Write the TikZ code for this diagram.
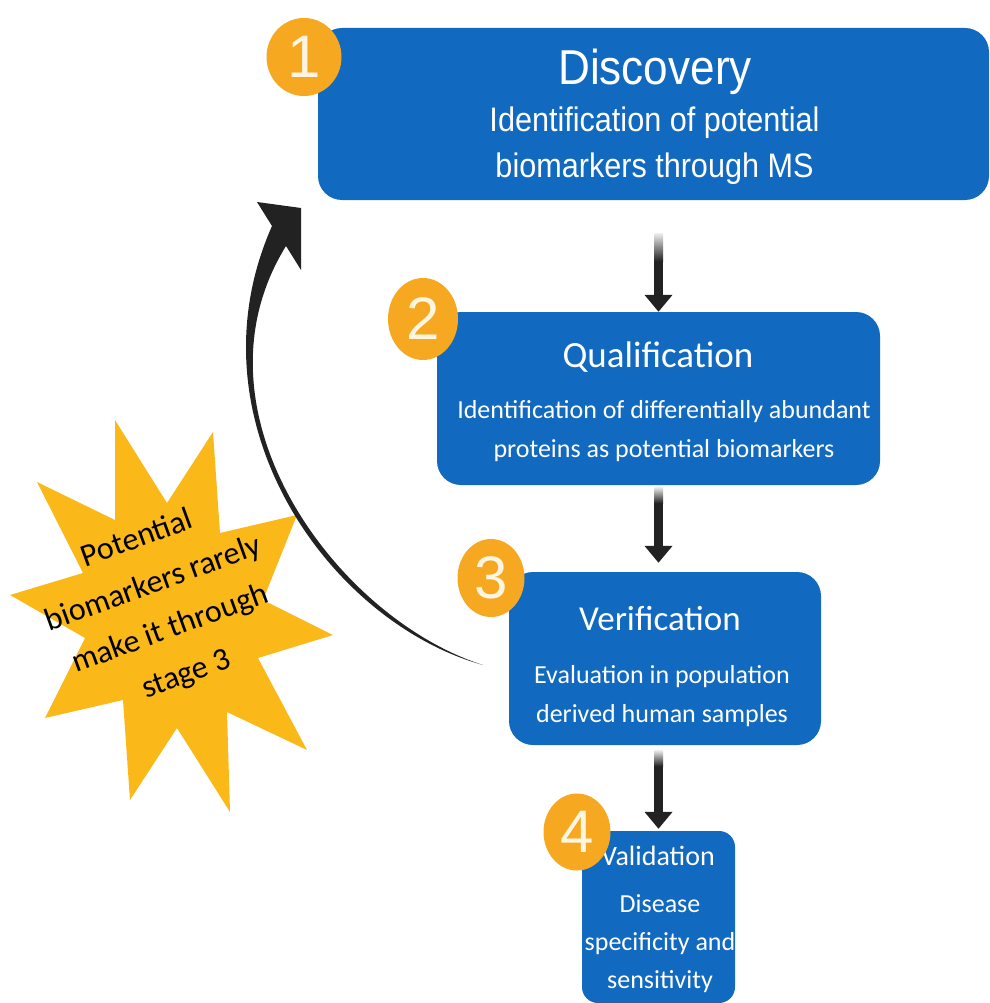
\documentclass[tikz,border=0pt]{standalone}
\usepackage{fontspec}
\setmainfont{Carlito}
\newfontfamily\discfont[FakeStretch=0.9]{Liberation Sans}
\newfontfamily\numfont{Liberation Sans}
\usetikzlibrary{shapes.geometric,arrows.meta,calc}
\definecolor{boxblue}{RGB}{17,105,192}
\definecolor{numorange}{RGB}{246,168,33}
\definecolor{starorange}{RGB}{250,185,24}
\definecolor{arrowgray}{RGB}{34,34,34}
\definecolor{numcream}{RGB}{255,245,225}

\begin{document}
\begin{tikzpicture}[x=1pt,y=-1pt,
  box/.style={fill=boxblue,rounded corners=24pt,inner sep=0pt},
  num/.style={ellipse,fill=numorange,minimum width=70pt,minimum height=80pt,inner sep=0pt,text=numcream,font=\numfont\fontsize{60}{60}\selectfont},
  ttl/.style={text=white,anchor=base,inner sep=0pt},
  sub/.style={text=white,align=center,anchor=base,inner sep=0pt,font=\fontsize{26}{39}\selectfont},
  flow/.style={line width=9pt,draw=arrowgray,-{Triangle[width=27pt,length=17pt]}},
  fade/.style={top color=arrowgray!8,bottom color=arrowgray}]
  \useasboundingbox (0,0) rectangle (989,1003);
  % warning star
  \fill[starorange] (115,420) -- (167,503) -- (213,432) -- (220,533) -- (297,515) -- (263,600)
    -- (333,635) -- (258,658) -- (307,750) -- (227,712) -- (230,812) -- (177,728) -- (130,800)
    -- (123,700) -- (45,718) -- (85,638) -- (10,595) -- (83,573) -- (37,482) -- (115,520) -- cycle;
  % loop back from stage 3 to stage 1
  \fill[arrowgray] (483,665) .. controls (328,622) and (186,420) .. (272,226) -- (257,202)
    -- (301,208) -- (301,270) -- (286,246) .. controls (184,411) and (336,618) .. (483,665) -- cycle;
  \node[rotate=20,align=center,font=\fontsize{32}{48}\selectfont] (note) at (162,607) {Potential\\biomarkers rarely\\make it through\\stage 3};
  % stages (multi-line texts sit on their last baseline)
  \node[box,minimum width=671pt,minimum height=172pt] (b1) at (653.5,114) {};
  \node[ttl,font=\discfont\fontsize{49}{52}\selectfont] (t1) at (655,85) {Discovery};
  \node[sub,font=\discfont\fontsize{34}{46}\selectfont] (s1) at (654.5,178) {Identification of potential\\biomarkers through MS};
  \node[box,minimum width=443pt,minimum height=173pt] (b2) at (658.5,398.5) {};
  \node[ttl,font=\fontsize{37}{40}\selectfont] (t2) at (658,367) {Qualification};
  \node[sub] (s2) at (664,457) {Identification of differentially abundant\\proteins as potential biomarkers};
  \node[box,minimum width=312pt,minimum height=173pt] (b3) at (665,658.5) {};
  \node[ttl,font=\fontsize{35}{40}\selectfont] (t3) at (660,630) {Verification};
  \node[sub] (s3) at (662,722) {Evaluation in population\\derived human samples};
  \node[box,rounded corners=16pt,minimum width=153pt,minimum height=172pt] (b4) at (658.5,917) {};
  \node[ttl,font=\fontsize{28}{30}\selectfont] (t4) at (658,865) {Validation};
  \node[sub,font=\fontsize{26}{38}\selectfont] (s4) at (660,988) {Disease\\specificity and\\sensitivity};
  % step numbers
  \node[num,minimum width=75pt,minimum height=78pt] (n1) at (304,57) {1};
  \node[num,minimum height=82pt] (n2) at (423,319) {2};
  \node[num,minimum width=67pt,minimum height=78pt] (n3) at (491,578) {3};
  \node[num,minimum width=67pt,minimum height=77pt] (n4) at (577,832) {4};
  % arrows between stages
  \coordinate (a1) at ($(b2.north |- b1.south)+(0,33)$);
  \coordinate (a2) at ($(b2.south)+(0,2)$);
  \coordinate (a3) at ($(b4.north |- b3.south)+(0,5)$);
  \draw[flow] (a1) -- (b2.north);
  \draw[flow] (a2) -- ($(b2.south |- b3.north)+(0,-9)$);
  \draw[flow] (a3) -- ($(b4.north)+(0,-2)$);
  \shade[fade] ($(a1)+(-4.5,0)$) rectangle ($(a1)+(4.5,28)$);
  \shade[fade] ($(a2)+(-4.5,0)$) rectangle ($(a2)+(4.5,16)$);
  \shade[fade] ($(a3)+(-4.5,0)$) rectangle ($(a3)+(4.5,16)$);
\end{tikzpicture}
\end{document}
